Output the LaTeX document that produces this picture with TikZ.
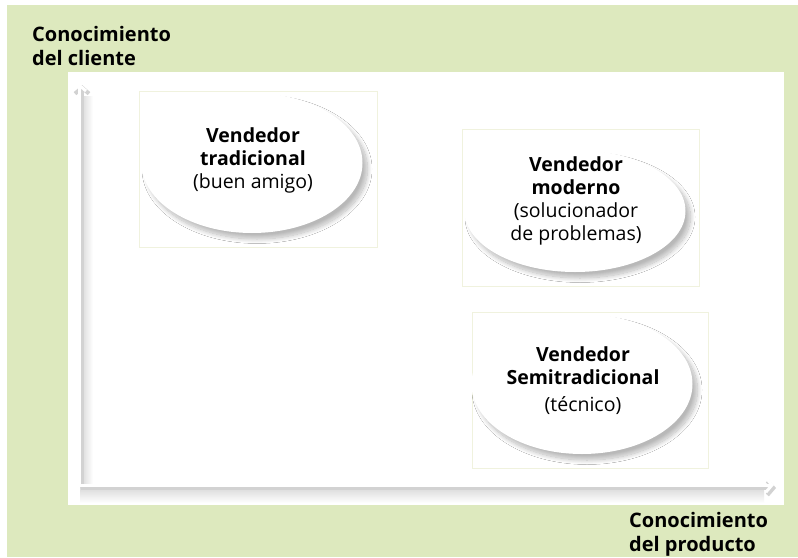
\documentclass[tikz,border=0pt]{standalone}
\usepackage{fontspec}
\setmainfont{Open Sans}
\usetikzlibrary{arrows.meta,shapes.geometric,shadows.blur}
\definecolor{fondoVerde}{RGB}{221,233,190}
\definecolor{marcoTenue}{RGB}{240,242,222}

\begin{document}
\begin{tikzpicture}[x=1pt, y=-1pt,
  every node/.style={font=\fontsize{19.5}{23}\selectfont, align=center, inner sep=0pt},
  vendedor/.style={ellipse, fill=white, minimum width=221pt, minimum height=140pt,
    blur shadow={shadow xshift=5pt, shadow yshift=-6pt, shadow blur radius=4.5pt,
      shadow blur steps=14, shadow opacity=28}},
  marco/.style={draw=marcoTenue, line width=0.8pt},
  titulo/.style={font=\fontsize{20}{24}\selectfont\bfseries, align=left, anchor=north west},
  eje/.style={white, line width=3pt, -{Straight Barb[length=6pt, width=14pt]}}]
  \useasboundingbox (0,0) rectangle (798,557);
  % ---------------- fondo ----------------
  \fill[white] (0,0) rectangle (798,557);
  \fill[fondoVerde] (7,5) rectangle (798,557);
  \fill[white] (68,72) rectangle (784,505);
  % ---------------- ejes ----------------
  \shade[left color=gray!30, right color=white] (81,96) rectangle (93,484);
  \shade[top color=gray!30, bottom color=white] (80,487) rectangle (764,503);
  \coordinate (origen) at (79,485);
  \coordinate (ejeY) at (79,83);
  \coordinate (ejeX) at (774,485);
  \draw[eje, gray!35, line width=4pt, transform canvas={xshift=3pt, yshift=-2pt}] (origen) -- (ejeY);
  \draw[eje, gray!35, line width=4pt, transform canvas={xshift=2pt, yshift=-3pt}] (origen) -- (ejeX);
  \draw[eje] (origen) -- (ejeY);
  \draw[eje] (origen) -- (ejeX);
  \node[titulo] (tituloY) at (32,26) {Conocimiento\\del cliente};
  \node[titulo] (tituloX) at (629,512) {Conocimiento\\del producto};
  % ---------------- vendedores ----------------
  \draw[marco] (139,91) rectangle (377,247);
  \draw[marco] (462,129) rectangle (699,286);
  \draw[marco] (472,312) rectangle (708,468);
  \node[vendedor] (tradE) at (252,163) {};
  \node[vendedor, minimum height=122pt] (modE) at (575,211) {};
  \node[vendedor] (semiE) at (582,384) {};
  \node (tradT) at (253,160) {\textbf{Vendedor}\\\textbf{tradicional}\\(buen amigo)};
  \node (modT) at (576,201) {\textbf{Vendedor}\\\textbf{moderno}\\(solucionador\\de problemas)};
  \node (semiT) at (583,381) {\textbf{Vendedor}\\\textbf{Semitradicional}\\[4pt](técnico)};
\end{tikzpicture}
\end{document}
